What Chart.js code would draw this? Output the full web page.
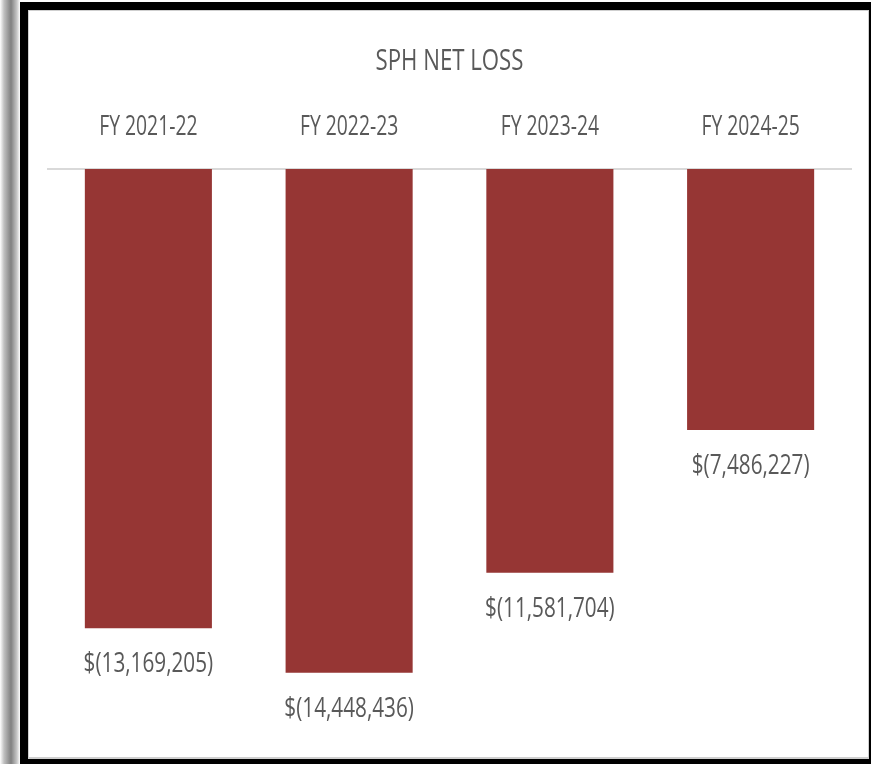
<!DOCTYPE html>
<html>
<head>
<meta charset="utf-8">
<script src="https://cdn.jsdelivr.net/npm/chart.js@4"></script>
<style>
  html, body { margin: 0; padding: 0; background: #fff; width: 871px; height: 764px; overflow: hidden; }
  .shadow { position: absolute; left: 0; top: 0; width: 20px; height: 764px;
    background: linear-gradient(to right, #fff 0%, #c0c0c0 20%, #808080 55%, #c8c8c8 85%, #fff 100%); }
  .frame { position: absolute; left: 20px; top: 2px; width: 870px; height: 780px; background: #000; }
  .inner { position: absolute; left: 28px; top: 10px; width: 841px; height: 749px; background: #fff;
    border: 1px solid #cfcfcf; border-bottom-width: 2px; box-sizing: border-box; }
  .wrap { position: absolute; left: 28px; top: 10px; width: 842px; height: 747px; }
</style>
</head>
<body>
<div class="shadow"></div>
<div class="frame"></div>
<div class="inner"></div>
<div class="wrap"><canvas id="loss-chart"></canvas></div>
<script>
const categories = ["FY 2021-22", "FY 2022-23", "FY 2023-24", "FY 2024-25"];
const netLoss = [-13169205, -14448436, -11581704, -7486227];
const chartTitle = "SPH NET LOSS";

const FONT = "'Open Sans', sans-serif";
const TEXT = "#595959";

function money(v) {
    const s = Math.abs(v).toLocaleString("en-US");
    return v < 0 ? "$(" + s + ")" : "$" + s;
}

// no condensed font installed, so squeeze the text horizontally
function squeezedText(ctx, text, x, y, size, sx) {
    ctx.save();
    ctx.translate(x, y);
    ctx.scale(sx, 1);
    ctx.font = size + "px " + FONT;
    ctx.fillStyle = TEXT;
    ctx.textAlign = "center";
    ctx.textBaseline = "middle";
    ctx.fillText(text, 0, 0);
    ctx.restore();
}

const textLayer = {
    id: "textLayer",
    afterDraw(chart) {
        const ctx = chart.ctx;
        const area = chart.chartArea;
        const xScale = chart.scales.x;
        const cx = (area.left + area.right) / 2;

        squeezedText(ctx, chartTitle, cx, area.top - 108, 30, 0.74);

        categories.forEach((c, i) => {
            squeezedText(ctx, c, xScale.getPixelForTick(i), area.top - 42, 28, 0.69);
        });

        chart.getDatasetMeta(0).data.forEach((bar, i) => {
            squeezedText(ctx, money(netLoss[i]), bar.x, bar.y + 36, 28, 0.74);
        });
    },
};

function lossChart() {
    const el = document.getElementById("loss-chart");
    const ctx = el.getContext("2d");

    new Chart(ctx, {
        type: "bar",
        data: {
            labels: categories,
            datasets: [
                {
                    data: netLoss,
                    backgroundColor: "#963634",
                    borderWidth: 0,
                    barPercentage: 1,
                    categoryPercentage: 0.633,
                },
            ],
        },
        options: {
            responsive: true,
            maintainAspectRatio: false,
            animation: false,
            layout: { padding: { left: 20, right: 19, top: 159, bottom: 17 } },
            scales: {
                x: {
                    position: "top",
                    grid: { display: false, drawTicks: false },
                    border: { display: true, color: "#d9d9d9", width: 2 },
                    ticks: { display: false },
                },
                y: {
                    display: false,
                    min: -16375000,
                    max: 0,
                },
            },
            plugins: {
                legend: { display: false },
                tooltip: { enabled: false },
                title: { display: false },
            },
        },
        plugins: [textLayer],
    });
}

document.addEventListener("DOMContentLoaded", lossChart);
</script>
</body>
</html>
